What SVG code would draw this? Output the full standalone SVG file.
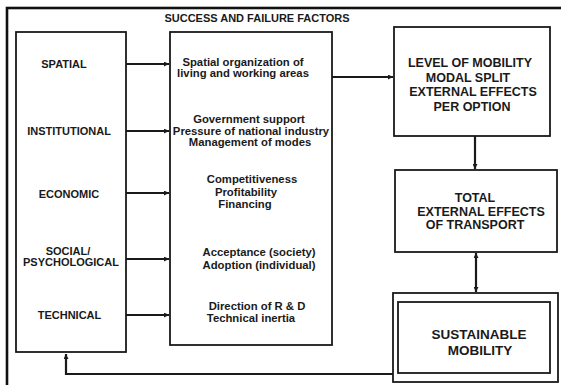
<svg xmlns="http://www.w3.org/2000/svg" width="561" height="385" viewBox="0 0 561 385">
  <style>
    .box { fill: none; stroke: #1a1a1a; stroke-width: 1.8; }
    .frame { fill: none; stroke: #111; stroke-width: 2.6; }
    .lbl { font-family: "Liberation Sans", Arial, sans-serif; font-weight: bold; fill: #1a1a1a; text-anchor: middle; }
    .side { font-size: 11px; }
    .fac { font-size: 11.3px; }
    .big { font-size: 12.5px; }
    .huge { font-size: 13.5px; }
    .con { fill: none; stroke: #1a1a1a; stroke-width: 2.2; }
  </style>
  <defs>
    <marker id="ah" viewBox="0 0 10 10" refX="10" refY="5" markerWidth="5" markerHeight="5" markerUnits="userSpaceOnUse" orient="auto-start-reverse">
      <path d="M0,0 L10,5 L0,10 z" fill="#1a1a1a"/>
    </marker>
  </defs>

  <rect width="561" height="385" fill="#fff"/>
  <rect class="frame" x="7" y="8" width="560" height="382"/>

  <text class="lbl side" x="257" y="22">SUCCESS AND FAILURE FACTORS</text>

  <g id="areas">
    <rect class="box" x="16" y="32" width="110" height="320"/>
    <text class="lbl side" x="64" y="68">SPATIAL</text>
    <text class="lbl side" x="69" y="135">INSTITUTIONAL</text>
    <text class="lbl side" x="69" y="198">ECONOMIC</text>
    <text class="lbl side" x="68" y="255">SOCIAL/</text>
    <text class="lbl side" x="71" y="266">PSYCHOLOGICAL</text>
    <text class="lbl side" x="69.5" y="319">TECHNICAL</text>
  </g>

  <g id="factors">
    <rect class="box" x="170" y="32" width="162" height="313"/>
    <text class="lbl fac" x="243" y="66">Spatial organization of</text>
    <text class="lbl fac" x="243" y="77">living and working areas</text>
    <text class="lbl fac" x="249" y="123">Government support</text>
    <text class="lbl fac" x="251" y="135">Pressure of national industry</text>
    <text class="lbl fac" x="250" y="146">Management of modes</text>
    <text class="lbl fac" x="252" y="183">Competitiveness</text>
    <text class="lbl fac" x="246" y="196">Profitability</text>
    <text class="lbl fac" x="245" y="208">Financing</text>
    <text class="lbl fac" x="259" y="256">Acceptance (society)</text>
    <text class="lbl fac" x="259" y="269">Adoption (individual)</text>
    <text class="lbl fac" x="257" y="310">Direction of R &amp; D</text>
    <text class="lbl fac" x="251" y="322">Technical inertia</text>
  </g>

  <g id="mobility">
    <rect class="box" x="394" y="27" width="156" height="109"/>
    <text class="lbl big" x="470" y="66.5">LEVEL OF MOBILITY</text>
    <text class="lbl big" x="468" y="81.5">MODAL SPLIT</text>
    <text class="lbl big" x="473" y="95.5">EXTERNAL EFFECTS</text>
    <text class="lbl big" x="472" y="110.5">PER OPTION</text>
  </g>

  <g id="total">
    <rect class="box" x="395" y="170" width="162" height="82"/>
    <text class="lbl big" x="475" y="201.5">TOTAL</text>
    <text class="lbl big" x="481" y="215.5">EXTERNAL EFFECTS</text>
    <text class="lbl big" x="475" y="228.5">OF TRANSPORT</text>
  </g>

  <g id="sustainable">
    <rect class="box" x="393" y="293" width="165" height="89"/>
    <rect class="box" x="398" y="302" width="152" height="71"/>
    <text class="lbl huge" x="479" y="339">SUSTAINABLE</text>
    <text class="lbl huge" x="480" y="355">MOBILITY</text>
  </g>

  <g id="connectors">
    <line class="con" x1="126" y1="64" x2="169" y2="64" marker-end="url(#ah)"/>
    <line class="con" x1="126" y1="131" x2="169" y2="131" marker-end="url(#ah)"/>
    <line class="con" x1="126" y1="193" x2="169" y2="193" marker-end="url(#ah)"/>
    <line class="con" x1="126" y1="259" x2="169" y2="259" marker-end="url(#ah)"/>
    <line class="con" x1="126" y1="315" x2="169" y2="315" marker-end="url(#ah)"/>
    <line class="con" x1="332" y1="77" x2="393" y2="77" marker-end="url(#ah)"/>
    <line class="con" x1="475" y1="136" x2="475" y2="169" marker-end="url(#ah)"/>
    <line class="con" x1="476" y1="253" x2="476" y2="292" marker-start="url(#ah)" marker-end="url(#ah)"/>
    <polyline class="con" points="393,374 66,374 66,354" marker-end="url(#ah)"/>
  </g>
</svg>
